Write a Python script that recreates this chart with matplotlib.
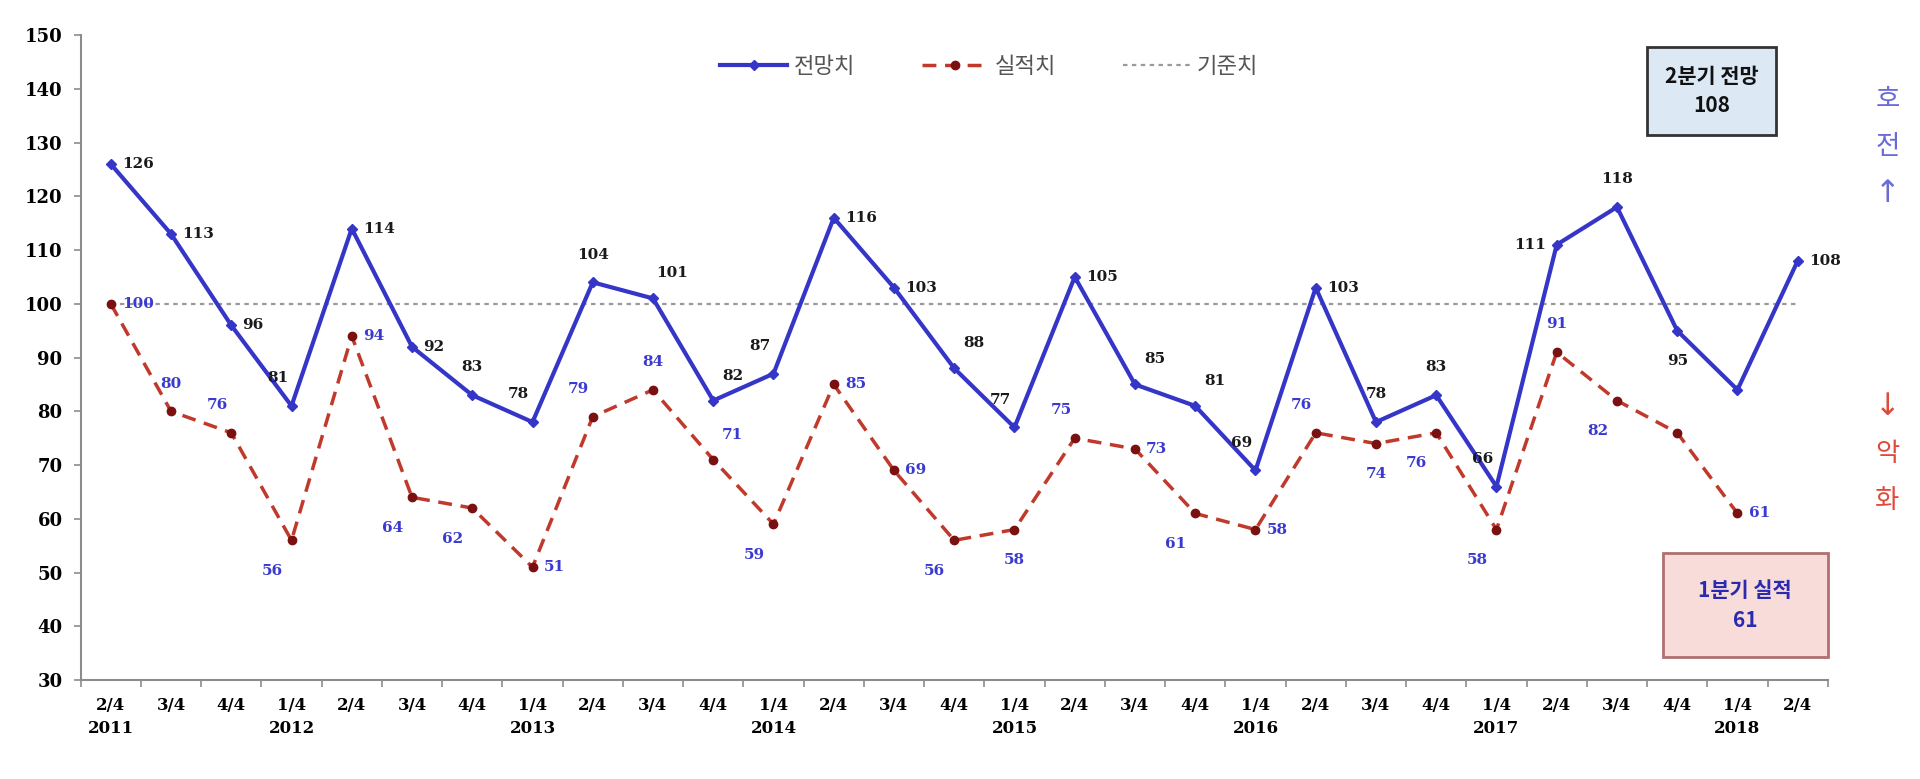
import matplotlib
matplotlib.use("Agg")
import matplotlib.pyplot as plt
from matplotlib.ticker import FixedLocator
from matplotlib.patches import FancyBboxPatch

plt.rcParams['font.family'] = ['Noto Sans CJK KR', 'DejaVu Sans']

# --- data ---
quarters = ["2/4", "3/4", "4/4",
            "1/4", "2/4", "3/4", "4/4",
            "1/4", "2/4", "3/4", "4/4",
            "1/4", "2/4", "3/4", "4/4",
            "1/4", "2/4", "3/4", "4/4",
            "1/4", "2/4", "3/4", "4/4",
            "1/4", "2/4", "3/4", "4/4",
            "1/4", "2/4"]
years = ["2011", "", "",
         "2012", "", "", "",
         "2013", "", "", "",
         "2014", "", "", "",
         "2015", "", "", "",
         "2016", "", "", "",
         "2017", "", "", "",
         "2018", ""]
forecast = [126, 113, 96, 81, 114, 92, 83, 78, 104, 101, 82, 87, 116, 103, 88,
            77, 105, 85, 81, 69, 103, 78, 83, 66, 111, 118, 95, 84, 108]
actual = [100, 80, 76, 56, 94, 64, 62, 51, 79, 84, 71, 59, 85, 69, 56,
          58, 75, 73, 61, 58, 76, 74, 76, 58, 91, 82, 76, 61]
baseline = 100

# label placement (r=right, a=above, al=above-left, ar=above-right,
# b=below, bl=below-left, l=left, None=no label)
fc_pos = ['r', 'r', 'r', 'al', 'r', 'r', 'a', 'al', 'a', 'ar', 'ar', 'al', 'r', 'r', 'ar',
          'al', 'r', 'ar', 'ar', 'al', 'r', 'a', 'a', 'al', 'l', 'a', 'b', None, 'r']
ac_pos = ['r', 'a', 'al', 'bl', 'r', 'bl', 'bl', 'r', 'al', 'a', 'ar', 'bl', 'r', 'r', 'bl',
          'b', 'al', 'r', 'bl', 'r', 'al', 'b', 'bl', 'bl', 'a', 'bl', None, 'r']

OFFS = {'r': (8, 0), 'a': (0, 20), 'al': (-10, 20), 'ar': (14, 18),
        'b': (0, -22), 'bl': (-14, -22), 'l': (-8, 0)}

BLUE = '#3535C8'
RED = '#C0392B'
DARKRED = '#7B1010'

fig = plt.figure(figsize=(19.2, 7.79), dpi=100)
ax = fig.add_axes([0.042, 0.127, 0.910, 0.828])

x = list(range(len(quarters)))
ax.plot(x[:len(forecast)], forecast, color=BLUE, lw=3, marker='D', ms=5,
        markerfacecolor=BLUE, markeredgecolor=BLUE, label='전망치', zorder=3)
ax.plot(x[:len(actual)], actual, color=RED, lw=2.5, ls=(0, (4, 2.5)), marker='o', ms=6,
        markerfacecolor=DARKRED, markeredgecolor=DARKRED, label='실적치', zorder=3)
ax.plot([0, len(quarters) - 1], [baseline, baseline], color='#9A9A9A', lw=1.6,
        ls=(0, (2, 2)), label='기준치', zorder=1)


def put_labels(vals, pos, color):
    for i, (v, p) in enumerate(zip(vals, pos)):
        if p is None:
            continue
        dx, dy = OFFS[p]
        ha = 'left' if p == 'r' else ('right' if p == 'l' else 'center')
        ax.annotate(str(v), (i, v), xytext=(dx, dy), textcoords='offset points',
                    ha=ha, va='center', fontsize=11, fontweight='bold', color=color,
                    family=['DejaVu Serif'])


put_labels(forecast, fc_pos, '#1A1A1A')
put_labels(actual, ac_pos, '#3A3AD0')

ax.set_xlim(-0.5, len(quarters) - 0.5)
ax.set_ylim(30, 150)
ax.set_yticks(range(30, 151, 10))
ax.set_xticks(x)
ax.set_xticklabels([q + "\n" + y for q, y in zip(quarters, years)],
                   fontsize=12, fontweight='bold', family=['DejaVu Serif'], linespacing=1.5)
ax.xaxis.set_minor_locator(FixedLocator([i + 0.5 for i in range(-1, len(quarters))]))
ax.tick_params(axis='x', which='major', length=0, pad=12)
ax.tick_params(axis='x', which='minor', length=5, color='#8C8C8C', width=1.2)
ax.tick_params(axis='y', length=5, color='#8C8C8C', width=1.2, pad=8)
for lbl in ax.get_yticklabels():
    lbl.set_fontsize(13)
    lbl.set_fontweight('bold')
    lbl.set_family(['DejaVu Serif'])
for s in ['top', 'right']:
    ax.spines[s].set_visible(False)
for s in ['left', 'bottom']:
    ax.spines[s].set_color('#8C8C8C')
    ax.spines[s].set_linewidth(1.5)

leg = ax.legend(loc='upper center', bbox_to_anchor=(0.52, 1.0), ncol=3, frameon=False,
                fontsize=16, columnspacing=3.0, handlelength=3.0, handletextpad=0.3)
for t in leg.get_texts():
    t.set_color('#555555')

# callout boxes
box1 = FancyBboxPatch((0.858, 0.827), 0.067, 0.113, boxstyle='square,pad=0',
                      transform=fig.transFigure, facecolor='#DCE8F4', edgecolor='#333333',
                      lw=2.0, zorder=5)
fig.patches.append(box1)
fig.text(0.8915, 0.883, "2분기 전망\n108", ha='center', va='center', fontsize=15,
         fontweight='bold', color='#111111', linespacing=1.5, zorder=6)

box2 = FancyBboxPatch((0.866, 0.157), 0.086, 0.133, boxstyle='square,pad=0',
                      transform=fig.transFigure, facecolor='#F8DCDA', edgecolor='#B07070',
                      lw=2.0, zorder=5)
fig.patches.append(box2)
fig.text(0.909, 0.223, "1분기 실적\n61", ha='center', va='center', fontsize=15,
         fontweight='bold', color='#2A2AB0', linespacing=1.5, zorder=6)

# side markers (vertical text, one glyph per line)
up_col = '#6A6AD8'
dn_col = '#E04A3A'
fig.text(0.983, 0.872, "호", ha='center', va='center', fontsize=19, color=up_col)
fig.text(0.983, 0.812, "전", ha='center', va='center', fontsize=19, color=up_col)
fig.text(0.983, 0.752, "↑", ha='center', va='center', fontsize=22, color=up_col,
         family=['DejaVu Sans'])
fig.text(0.983, 0.478, "↓", ha='center', va='center', fontsize=22, color=dn_col,
         family=['DejaVu Sans'])
fig.text(0.983, 0.418, "악", ha='center', va='center', fontsize=19, color=dn_col)
fig.text(0.983, 0.358, "화", ha='center', va='center', fontsize=19, color=dn_col)

fig.savefig("out.png", dpi=100)
